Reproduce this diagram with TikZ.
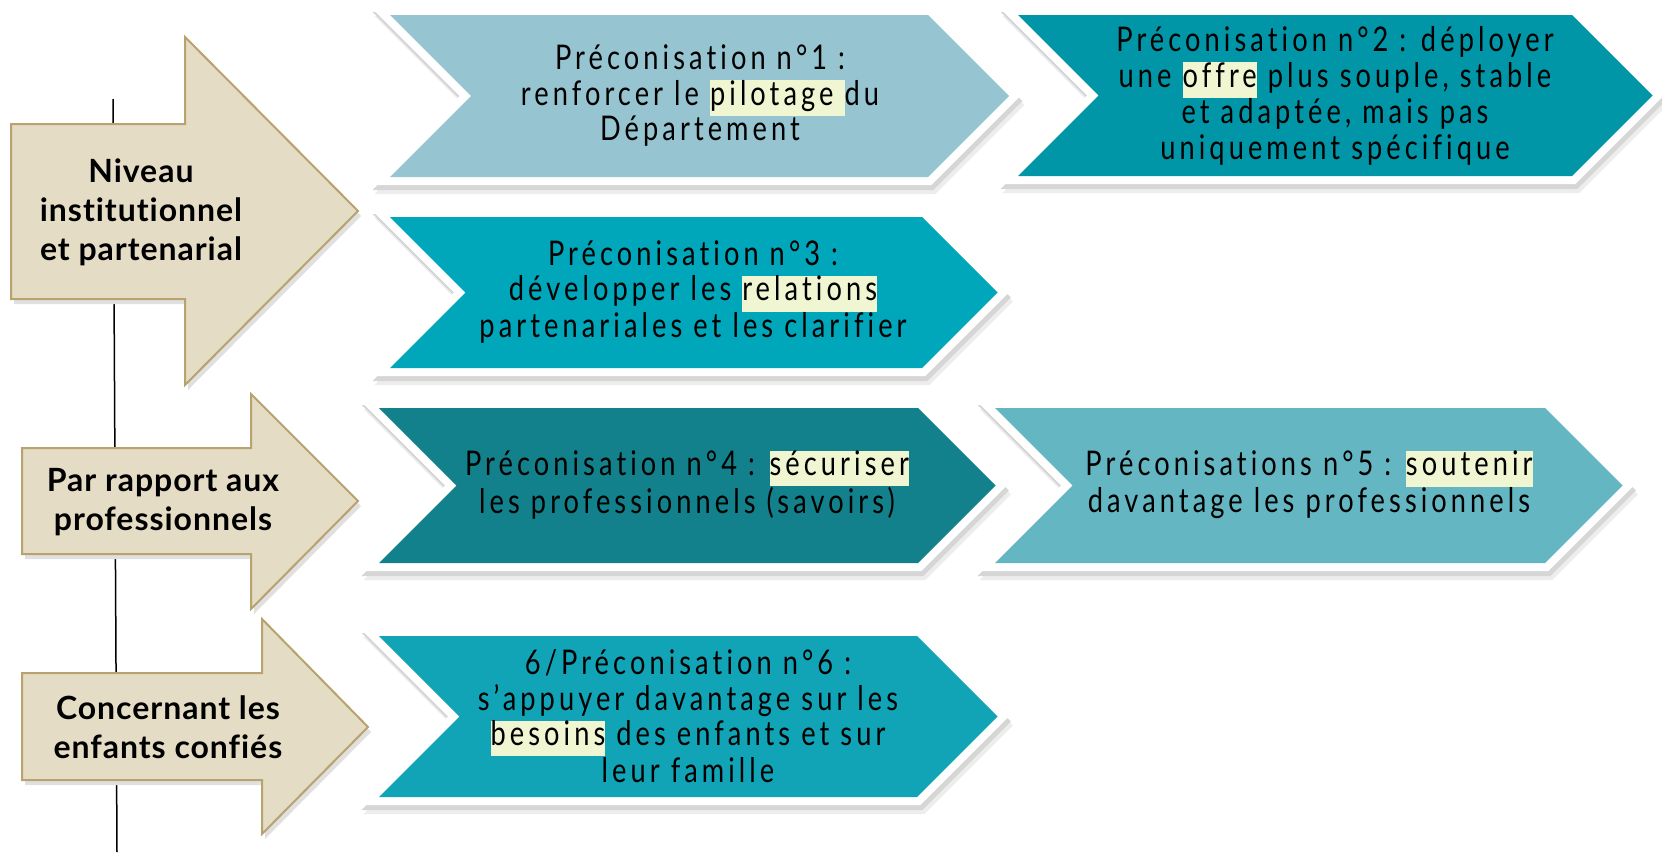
\documentclass[tikz,border=0pt]{standalone}
\usepackage{fontspec}
\usepackage{tikz}
\usetikzlibrary{positioning}
\usepackage{xcolor}
\setmainfont[Ligatures=NoCommon]{Lato}
\newfontfamily\chevfont[Ligatures=NoCommon,FakeStretch=0.8,LetterSpace=12.0]{Lato}
\newfontfamily\catfont[Ligatures=NoCommon,LetterSpace=3.0]{Lato}

\definecolor{chevA}{HTML}{96C4D0}
\definecolor{chevB}{HTML}{0096A7}
\definecolor{chevC}{HTML}{00A6B9}
\definecolor{chevD}{HTML}{12818B}
\definecolor{chevE}{HTML}{64B6C2}
\definecolor{chevF}{HTML}{11A4B6}
\definecolor{beige}{HTML}{E4DCC4}
\definecolor{dore}{HTML}{B8A26E}
\definecolor{surligne}{HTML}{F0F5D2}

\newcommand\hl[1]{{\setlength{\fboxsep}{0pt}\colorbox{surligne}{\strut#1}}}
\newcommand\chevpath[4]{(#1,#2) -- (#3,#2) -- ({#3+(#4-#2)/2},{(#2+#4)/2}) -- (#3,#4) -- (#1,#4) -- ({#1+(#4-#2)/2},{(#2+#4)/2}) -- cycle}
\newcommand\chevron[5]{%
  \filldraw[black!7, line width=16pt, shift={(4,9)}] \chevpath{#1}{#2}{#3}{#4};
  \filldraw[black!16, line width=16pt, shift={(2,5)}] \chevpath{#1}{#2}{#3}{#4};
  \filldraw[white, line width=16pt, line join=miter] \chevpath{#1}{#2}{#3}{#4};
  \fill[#5] \chevpath{#1}{#2}{#3}{#4};
}

\begin{document}
\begin{tikzpicture}[x=1pt,y=-1pt,
  cat/.style={fill=beige, draw=dore, line width=2pt, line join=miter},
  catshadow/.style={fill=black!12, shift={(3,5)}},
  cattext/.style={align=center, font=\catfont\bfseries\fontsize{32}{39}\selectfont},
  prectext/.style={align=center, font=\chevfont\fontsize{34}{35.5}\selectfont}]
\useasboundingbox (0,0) rectangle (1662,852);
\fill[white] (0,0) rectangle (1662,852);

% axe vertical
\coordinate (haut) at (113,99);
\coordinate (bas) at (117,852);
\draw[line width=1.5pt] (haut) -- (bas);

% niveaux
\fill[catshadow] (11,124) -- (185,124) -- (185,37) -- (358,211) -- (185,385) -- (185,299) -- (11,299) -- cycle;
\filldraw[cat] (11,124) -- (185,124) -- (185,37) -- (358,211) -- (185,385) -- (185,299) -- (11,299) -- cycle;
\fill[catshadow] (22,448) -- (251,448) -- (251,394) -- (358,501) -- (251,609) -- (251,554) -- (22,554) -- cycle;
\filldraw[cat] (22,448) -- (251,448) -- (251,394) -- (358,501) -- (251,609) -- (251,554) -- (22,554) -- cycle;
\fill[catshadow] (22,673) -- (262,673) -- (262,619) -- (368,727) -- (262,834) -- (262,780) -- (22,780) -- cycle;
\filldraw[cat] (22,673) -- (262,673) -- (262,619) -- (368,727) -- (262,834) -- (262,780) -- (22,780) -- cycle;
\node[cattext] (niv1) at (141,212) {Niveau\\institutionnel\\et partenarial};
\node[cattext] (niv2) at (163,502) {Par rapport aux\\professionnels};
\node[cattext] (niv3) at (168,727) {Concernant les\\enfants confiés};

% preconisations
\chevron{390}{15}{928}{177}{chevA}
\chevron{1018}{15}{1572}{176}{chevB}
\chevron{390}{217}{922}{368}{chevC}
\chevron{379}{408}{918}{563}{chevD}
\chevron{995}{408}{1545}{563}{chevE}
\chevron{379}{636}{917}{797}{chevF}

\node[prectext] (prec1) at (700,96) {Préconisation n°1 :\\renforcer le \hl{pilotage\ }du\\Département};
\node[prectext] (prec2) at (1335,96) {Préconisation n°2 : déployer\\une \hl{offre} plus souple, stable\\et adaptée, mais pas\\uniquement spécifique};
\node[prectext] (prec3) at (693,292) {Préconisation n°3 :\\développer les \hl{relations}\\partenariales et les clarifier};
\node[prectext] (prec4) at (687,485) {Préconisation n°4 : \hl{sécuriser}\\les professionnels (savoirs)};
\node[prectext] (prec5) at (1309,485) {Préconisations n°5 : \hl{soutenir}\\davantage les professionnels};
\node[prectext] (prec6) at (688,716) {6/Préconisation n°6 :\\s’appuyer davantage sur les\\\hl{besoins} des enfants et sur\\leur famille};
\end{tikzpicture}
\end{document}
